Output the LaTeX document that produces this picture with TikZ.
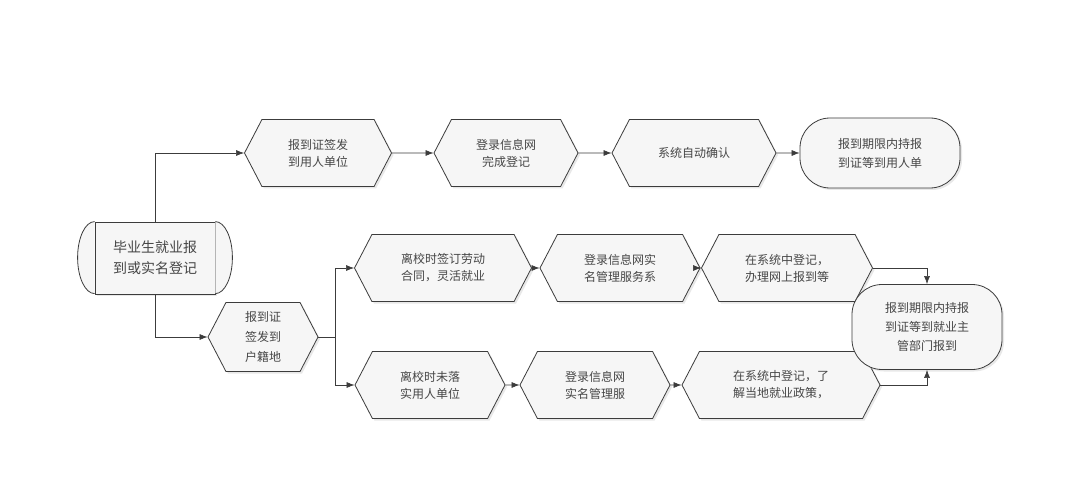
\documentclass[tikz,border=0pt]{standalone}
\usepackage{fontspec}
\newfontfamily\cjk{Noto Sans CJK SC}
\usetikzlibrary{shapes.symbols,shadows,arrows.meta}
\definecolor{linecol}{RGB}{60,60,60}
\definecolor{textcol}{RGB}{70,70,70}
\definecolor{boxfill}{RGB}{246,246,246}
\tikzset{
  hexbox/.style={
    signal, signal to=west and east, signal pointer angle=125,
    draw=linecol, thick, fill=boxfill, align=center,
    font={\cjk\fontsize{12}{17}\selectfont\color{textcol}},
    minimum height=67pt, inner xsep=2pt,
    drop shadow={shadow xshift=2pt,shadow yshift=-2pt,fill=gray!35}
  },
  endbox/.style={
    rectangle, rounded corners=30pt, draw=linecol, thick, fill=boxfill,
    align=center, font={\cjk\fontsize{12}{19}\selectfont\color{textcol}},
    drop shadow={shadow xshift=2pt,shadow yshift=-2pt,fill=gray!35}
  },
  flow/.style={draw=linecol, semithick, -{Latex[length=8pt,width=6pt]}},
  link/.style={draw=linecol, semithick},
}
\begin{document}
\begin{tikzpicture}[x=1pt,y=-1pt]
  \useasboundingbox[fill=white] (0,0) rectangle (1080,492);

  % start node
  \node[rectangle, draw=linecol, thick, fill=boxfill, minimum width=120pt,
        minimum height=72pt, align=center,
        font={\cjk\fontsize{14}{21}\selectfont\color{textcol}},
        drop shadow={shadow xshift=2pt,shadow yshift=-2pt,fill=gray!35}]
        (start) at (155,258) {毕业生就业报\\到或实名登记};
  \draw[linecol, thick, fill=boxfill] (start.north west) arc[start angle=90,end angle=270,x radius=17pt,y radius=36pt];
  \draw[linecol, thick, fill=boxfill] (start.north east) arc[start angle=90,end angle=-90,x radius=17pt,y radius=36pt];

  % upper branch
  \node[hexbox, minimum width=147pt] (unit) at (318,153) {报到证签发\\到用人单位};
  \node[hexbox, minimum width=144pt] (login) at (506,153) {登录信息网\\完成登记};
  \node[hexbox, minimum width=164pt] (auto) at (694,153) {系统自动确认};
  \node[endbox, minimum width=160pt, minimum height=70pt] (endA) at (880,153) {报到期限内持报\\到证等到用人单};

  % lower branch
  \node[hexbox, minimum width=110pt, minimum height=69pt,
        font={\cjk\fontsize{12}{20}\selectfont\color{textcol}}] (home) at (263,337) {报到证\\签发到\\户籍地};
  \node[hexbox, minimum width=177pt] (jobA) at (443,268) {离校时签订劳动\\合同，灵活就业};
  \node[hexbox, minimum width=160pt] (netA) at (620,268) {登录信息网实\\名管理服务系};
  \node[hexbox, minimum width=171pt] (regA) at (787,268) {在系统中登记，\\办理网上报到等};
  \node[hexbox, minimum width=150pt] (jobB) at (430,385) {离校时未落\\实用人单位};
  \node[hexbox, minimum width=150pt] (netB) at (595,385) {登录信息网\\实名管理服};
  \node[hexbox, minimum width=198pt] (regB) at (781,385) {在系统中登记，了\\解当地就业政策，};
  \node[endbox, minimum width=150pt, minimum height=85pt] (endB) at (927,327) {报到期限内持报\\到证等到就业主\\管部门报到};

  % connectors
  \draw[flow] (start.north) |- (unit.west);
  \draw[flow] (unit) -- (login);
  \draw[flow] (login) -- (auto);
  \draw[flow] (auto) -- (endA);
  \draw[flow] (start.south) |- (home.west);
  \coordinate (fork) at (335,337);
  \draw[link] (home.east) -- (fork);
  \draw[flow] (fork) |- (jobA.west);
  \draw[flow] (fork) |- (jobB.west);
  \draw[flow] (jobA) -- (netA);
  \draw[flow] (netA) -- (regA);
  \draw[flow] (jobB) -- (netB);
  \draw[flow] (netB) -- (regB);
  \draw[flow] (regA.east) -| (endB.north);
  \draw[flow] (regB.east) -| (endB.south);
\end{tikzpicture}
\end{document}
